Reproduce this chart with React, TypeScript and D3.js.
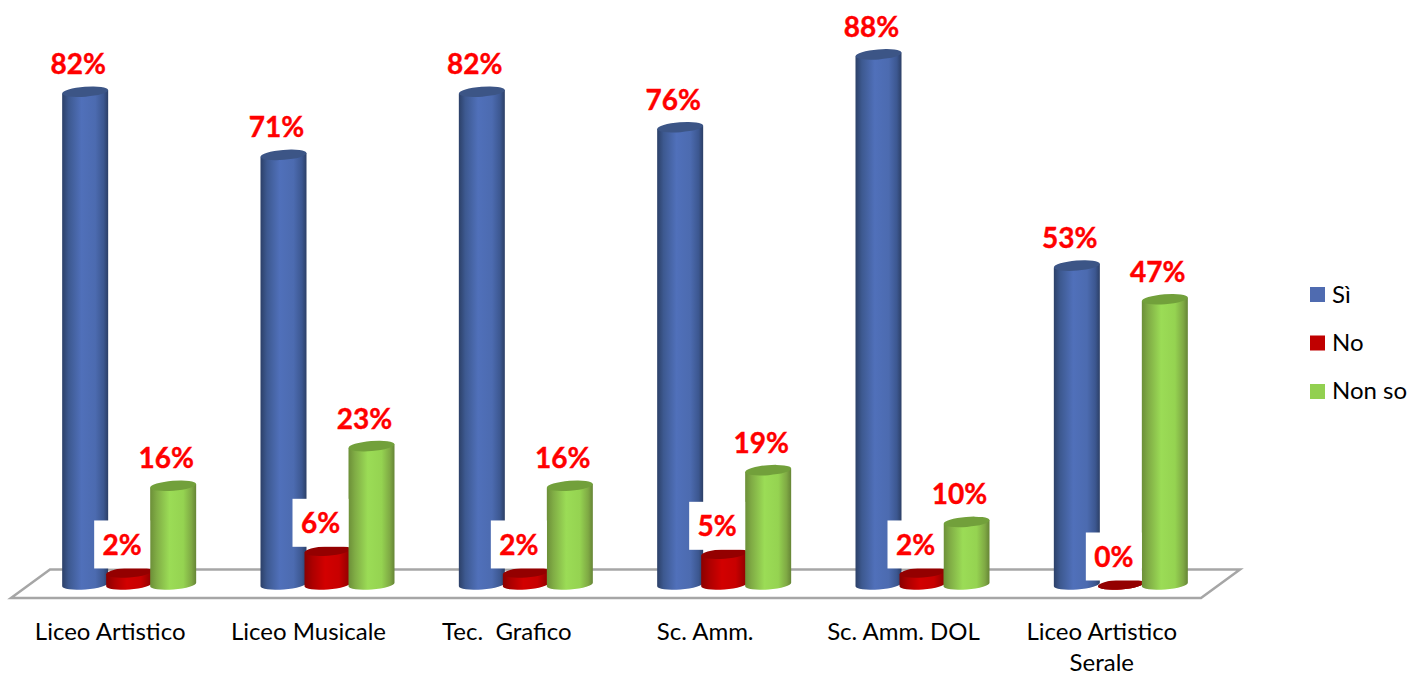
import React from "react";
import * as d3 from "d3";

const categories = [
  ["Liceo Artistico"],
  ["Liceo Musicale"],
  ["Tec.  Grafico"],
  ["Sc. Amm."],
  ["Sc. Amm. DOL"],
  ["Liceo Artistico", "Serale"],
];
const seriesNames = ["Sì", "No", "Non so"];
const si = [81.9, 71.4, 81.9, 76, 88.1, 53];
const no = [2, 5.6, 2, 5.1, 2, 0];
const nonSo = [16.4, 23, 16.4, 19, 10.4, 47.4];
const seriesValues = [si, no, nonSo];
const siLabels = ["82%", "71%", "82%", "76%", "88%", "53%"];
const noLabels = ["2%", "6%", "2%", "5%", "2%", "0%"];
const nonSoLabels = ["16%", "23%", "16%", "19%", "10%", "47%"];
const seriesLabels = [siLabels, noLabels, nonSoLabels];

const gradStops = [
  [["0", "#2c4068"], ["0.14", "#3d5990"], ["0.42", "#5070ba"], ["0.72", "#4c6bb0"], ["0.9", "#3c5790"], ["1", "#2c3f66"]],
  [["0", "#8a0000"], ["0.18", "#ad0000"], ["0.45", "#d20000"], ["0.75", "#c80000"], ["1", "#8c0000"]],
  [["0", "#6c8f38"], ["0.14", "#80ac45"], ["0.42", "#9bdc56"], ["0.72", "#95d351"], ["0.9", "#7fa944"], ["1", "#668536"]],
];
const topColors = ["#3c5586", "#940000", "#72a03b"];
const legendColors = ["#4f6bb0", "#c00000", "#92d050"];

const W = 1410;
const H = 673;
const RX = 23;
const RY = 5;
const TILT = 1.8;
const font = "Lato, Carlito, Calibri, sans-serif";

const x0 = d3.scaleBand<number>().domain(d3.range(categories.length)).range([11, 1201]);
const x1 = d3.scaleBand<number>().domain(d3.range(seriesNames.length)).range([-66, 66]);
const y = d3.scaleLinear().domain([0, 88]).range([584.5, 55]);

const floorPts: [number, number][] = [[11, 598], [50, 569.5], [1240, 569.5], [1201, 598]];
const floor = d3.line()(floorPts) + "Z";

function Bar({ cx, v, s }: { cx: number; v: number; s: number }) {
  const yT = y(v);
  const y0 = y(0);
  const l = cx - RX;
  const r = cx + RX;
  const d = `M${l},${yT + TILT}L${l},${y0 + TILT}A${RX},${RY} -4.5 0 0 ${r},${y0 - TILT}L${r},${yT - TILT}Z`;
  return (
    <g>
      <path d={d} fill={`url(#g${s})`} />
      <ellipse cx={cx} cy={yT} rx={RX} ry={RY} fill={topColors[s]} transform={`rotate(-4.5 ${cx} ${yT})`} />
    </g>
  );
}

export default function App() {
  const center = (i: number) => (x0(i) as number) + x0.bandwidth() / 2;
  const barX = (i: number, s: number) => center(i) + 19 + (x1(s) as number) + x1.bandwidth() / 2;
  return (
    <svg width={W} height={H} viewBox={`0 0 ${W} ${H}`} style={{ position: "absolute", left: 0, top: 0, display: "block", background: "#fff" }}>
      <defs>
        {gradStops.map((st, s) => (
          <linearGradient key={s} id={`g${s}`} x1="0" x2="1" y1="0" y2="0">
            {st.map(([o, c]) => <stop key={o} offset={o} stopColor={c} />)}
          </linearGradient>
        ))}
      </defs>
      <path d={floor} fill="#fff" stroke="#a6a6a6" strokeWidth={2.5} strokeLinejoin="miter" />
      {categories.map((_, i) => (
        <g key={i}>
          {seriesValues.map((vals, s) => <Bar key={s} cx={barX(i, s)} v={vals[i]} s={s} />)}
        </g>
      ))}
      {categories.map((_, i) =>
        seriesValues.map((vals, s) => {
          const top = y(vals[i]) - RY;
          const cx = barX(i, s) - 7;
          return (
            <g key={`${i}-${s}`}>
              {s === 1 && <rect x={cx - 28} y={top - 47} width={56} height={48} fill="#fff" />}
              <text x={cx} y={top - 12.5} textAnchor="middle" fontFamily={font} fontWeight={700} fontSize={28} fill="#ff0000" stroke="#ff0000" strokeWidth={0.4}>
                {seriesLabels[s][i]}
              </text>
            </g>
          );
        })
      )}
      {categories.map((lines, i) => (
        <text key={i} textAnchor="middle" fontFamily={font} fontSize={24} fill="#000">
          {lines.map((t, k) => (
            <tspan key={k} x={center(i)} y={640 + k * 31} style={{ whiteSpace: "pre" }}>{t}</tspan>
          ))}
        </text>
      ))}
      {seriesNames.map((n, s) => (
        <g key={n}>
          <rect x={1310} y={287 + s * 48.5} width={15} height={15} fill={legendColors[s]} />
          <text x={1332} y={303 + s * 48} fontFamily={font} fontSize={24} fill="#000">{n}</text>
        </g>
      ))}
    </svg>
  );
}
